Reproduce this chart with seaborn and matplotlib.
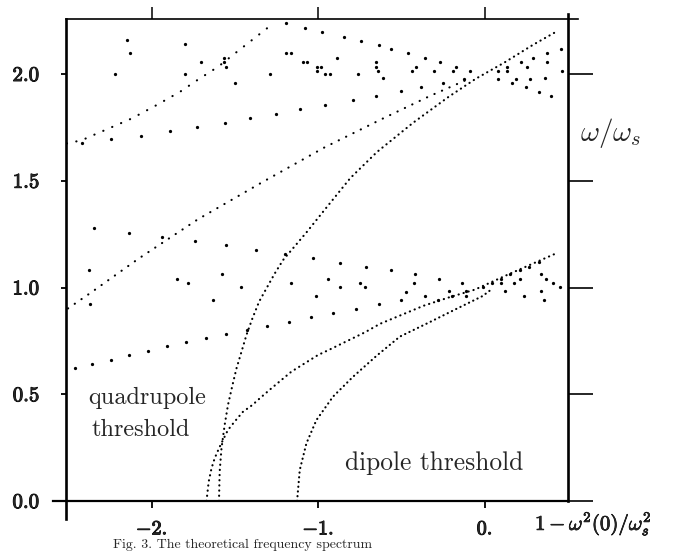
import matplotlib
matplotlib.use("Agg")
import matplotlib.pyplot as plt
import matplotlib.patheffects as pe
import seaborn as sns

# ---------------- data ----------------
# continuous dotted curves
curve_a_x = [-2.51, -2.42, -2.36, -2.30, -2.12, -1.97, -1.83, -1.72, -1.60, -1.50, -1.40, -1.30, -1.27]
curve_a_y = [1.675, 1.69, 1.711, 1.731, 1.792, 1.855, 1.917, 1.975, 2.035, 2.097, 2.158, 2.219, 2.239]

curve_b_x = [-2.503, -2.358, -2.292, -2.076, -1.724, -1.337, -0.961, -0.611, -0.33, -0.094]
curve_b_y = [0.902, 0.98, 1.017, 1.137, 1.319, 1.493, 1.657, 1.792, 1.897, 1.978]

curve_c_x = [-1.596, -1.592, -1.581, -1.562, -1.542, -1.515, -1.491, -1.461, -1.431, -1.395,
             -1.355, -1.311, -1.261, -1.211, -1.071, -0.94, -0.807, -0.647, -0.43, -0.214,
             -0.054, 0.116, 0.29, 0.426]
curve_c_y = [0.0, 0.137, 0.247, 0.356, 0.45, 0.543, 0.621, 0.699, 0.778, 0.856,
             0.934, 0.996, 1.066, 1.129, 1.258, 1.385, 1.513, 1.635, 1.772, 1.895,
             1.978, 2.053, 2.137, 2.197]

curve_d_x = [-1.671, -1.658, -1.641, -1.622, -1.596, -1.572, -1.542, -1.502, -1.452, -1.395,
             -1.351, -1.281, -1.221, -1.161, -1.081, -1.001, -0.93, -0.72, -0.629, -0.366,
             -0.21, -0.06, 0.146, 0.42]
curve_d_y = [0.0, 0.09, 0.153, 0.2, 0.247, 0.286, 0.333, 0.372, 0.418, 0.45,
             0.481, 0.528, 0.567, 0.606, 0.645, 0.684, 0.71, 0.79, 0.83, 0.915,
             0.955, 0.99, 1.063, 1.157]

curve_e_x = [-1.127, -1.111, -1.071, -1.011, -0.911, -0.791, -0.65, -0.51, -0.325, -0.17, -0.013, 0.038]
curve_e_y = [0.0, 0.145, 0.27, 0.379, 0.489, 0.582, 0.68, 0.77, 0.84, 0.90, 0.96, 0.99]

# sparse dotted rows
row_f_x = [-2.462, -2.356, -2.246, -2.136, -2.022, -1.908, -1.792, -1.676, -1.552, -1.425,
           -1.305, -1.177, -1.045, -0.911, -0.775, -0.635, -0.5, -0.356, -0.214]
row_f_y = [0.621, 0.643, 0.660, 0.682, 0.701, 0.724, 0.743, 0.763, 0.782, 0.80,
           0.82, 0.84, 0.86, 0.882, 0.901, 0.921, 0.941, 0.962, 0.982]

row_g_x = [-2.42, -2.242, -2.066, -1.892, -1.728, -1.562, -1.407, -1.255, -1.107, -0.957,
           -0.794, -0.651, -0.5, -0.384, -0.252, -0.126]
row_g_y = [1.675, 1.694, 1.711, 1.732, 1.752, 1.772, 1.792, 1.813, 1.835, 1.855,
           1.88, 1.899, 1.92, 1.938, 1.959, 1.977]

row_h_x = [-1.191, -1.081, -0.975, -0.846, -0.742, -0.638, -0.561, -0.462, -0.361, -0.267, -0.174, -0.088]
row_h_y = [2.237, 2.217, 2.198, 2.175, 2.156, 2.137, 2.116, 2.097, 2.076, 2.056, 2.034, 2.014]

row_k_x = [-2.347, -2.138, -1.936, -1.742, -1.556, -1.371, -1.199, -1.031, -0.867, -0.713,
           -0.563, -0.417, -0.273, -0.139, -0.011]
row_k_y = [1.277, 1.257, 1.238, 1.218, 1.199, 1.176, 1.156, 1.137, 1.116, 1.097,
           1.082, 1.062, 1.041, 1.023, 1.002]

# isolated dots
dots_x = [-2.146, -2.132, -2.22, -1.80, -1.80, -1.706, -1.566, -1.566, -1.556, -1.502,
          -1.291, -1.191, -1.164, -1.091, -1.068, -1.009, -1.009, -0.982, -0.957, -0.93,
          -0.885, -0.763, -0.651, -0.651, -0.643, -0.612, -0.412, -0.438, -0.306, -0.192,
          0.079, 0.165, 0.245, 0.323, 0.40, 0.186, 0.27, 0.36, 0.079, 0.135,
          0.215, 0.29, 0.374, 0.456, 0.135, 0.255, 0.375, 0.465,
          -2.376, -2.369, -1.848, -1.782, -1.576, -1.462, -1.632, -1.161, -1.011, -0.941,
          -0.867, -0.751, -0.721, -0.475, -0.427, -0.28, -0.199, -0.11, -0.11,
          0.045, 0.1, 0.1, 0.154, 0.21, 0.21, 0.268, 0.324, 0.34, 0.37,
          0.408, 0.45, 0.12, 0.234, 0.34, 0.358, 0.177]
dots_y = [2.158, 2.097, 1.998, 2.139, 1.998, 2.055, 2.076, 2.058, 2.034, 1.956,
          1.998, 2.097, 2.098, 2.058, 2.057, 2.034, 2.015, 2.034, 1.998, 2.0,
          2.077, 2.0, 2.057, 2.034, 2.014, 1.98, 2.034, 2.014, 2.014, 2.015,
          1.977, 1.959, 1.938, 1.917, 1.897, 1.977, 1.977, 1.98, 2.015, 2.034,
          2.056, 2.076, 2.097, 2.116, 2.015, 2.034, 2.056, 2.014,
          1.082, 0.921, 1.04, 1.023, 1.062, 1.001, 0.941, 1.023, 0.96, 1.04,
          1.002, 1.023, 1.002, 0.98, 1.023, 0.941, 0.962, 0.982, 0.962,
          1.023, 1.041, 1.023, 1.062, 1.082, 1.041, 1.097, 1.118, 1.062, 1.041,
          1.023, 1.002, 0.982, 0.962, 0.982, 0.941, 1.023]

x_ticks = [-2, -1, 0]
x_tick_labels = [r"$\mathbf{-2.}$", r"$\mathbf{-1.}$", r"$\mathbf{0.}$"]
y_ticks = [0.0, 0.5, 1.0, 1.5, 2.0]
y_tick_labels = [r"$\mathbf{0.0}$", r"$\mathbf{0.5}$", r"$\mathbf{1.0}$", r"$\mathbf{1.5}$", r"$\mathbf{2.0}$"]

# ---------------- style ----------------
sns.set_style("ticks")
plt.rcParams["mathtext.fontset"] = "cm"
plt.rcParams["font.family"] = ["cmr10", "DejaVu Serif"]
plt.rcParams["axes.unicode_minus"] = False
plt.rcParams["axes.formatter.use_mathtext"] = True

fig = plt.figure(figsize=(6.83, 5.52), dpi=100)
ax = fig.add_axes([0.0966, 0.0924, 0.735, 0.8732])

curves = [
    (curve_a_x, curve_a_y, 4.4),
    (curve_b_x, curve_b_y, 3.7),
    (curve_c_x, curve_c_y, 2.3),
    (curve_d_x, curve_d_y, 2.3),
    (curve_e_x, curve_e_y, 2.1),
]
for cx, cy, gap in curves:
    sns.lineplot(x=cx, y=cy, ax=ax, sort=False, estimator=None, color="black",
                 linewidth=1.55, linestyle=(0, (0.1, gap)), dash_capstyle="round")

for sx, sy in [(row_f_x, row_f_y), (row_g_x, row_g_y), (row_h_x, row_h_y),
               (row_k_x, row_k_y), (dots_x, dots_y)]:
    sns.scatterplot(x=sx, y=sy, ax=ax, s=5.5, color="black", linewidth=0, legend=False)

ax.set_xlim(-2.515, 0.5)
ax.set_ylim(0, 2.258)

bold = [pe.withStroke(linewidth=0.7, foreground="black")]

ax.set_xticks(x_ticks)
ax.set_xticklabels(x_tick_labels, fontsize=14.5)
ax.set_yticks(y_ticks)
ax.set_yticklabels(y_tick_labels, fontsize=15)
for lab in ax.get_xticklabels() + ax.get_yticklabels():
    lab.set_path_effects(bold)
ax.tick_params(axis="x", direction="out", length=5, width=1.3, pad=9, color="black")
ax.tick_params(axis="y", direction="out", length=3.5, width=1.3, pad=15, color="black")
ax.set_xlabel("")
ax.set_ylabel("")

for side, lw in [("left", 1.9), ("bottom", 1.6), ("right", 1.9), ("top", 1.2)]:
    ax.spines[side].set_linewidth(lw)
    ax.spines[side].set_color("black")
ax.spines["left"].set_bounds(-0.085, 2.258)
ax.spines["bottom"].set_bounds(-2.595, 0.5)
ax.spines["top"].set_bounds(-2.515, 0.56)
ax.spines["right"].set_bounds(0, 2.28)

top = ax.secondary_xaxis("top")
top.set_xticks(x_ticks)
top.set_xticklabels([])
top.tick_params(direction="out", length=9, width=1.3)
for sp in top.spines.values():
    sp.set_visible(False)

right = ax.secondary_yaxis("right")
right.set_yticks(y_ticks)
right.set_yticklabels([])
right.tick_params(direction="out", length=18, width=1.4)
for sp in right.spines.values():
    sp.set_visible(False)

ax.text(-2.384, 0.482, "quadrupole", fontsize=17.5, ha="left", va="center")
ax.text(-2.36, 0.333, "threshold", fontsize=17.5, ha="left", va="center")
ax.text(-0.841, 0.178, "dipole threshold", fontsize=18.3, ha="left", va="center")

fig.text(580 / 683, 1 - 133 / 552, r"$\omega/\omega_s$", fontsize=21, ha="left", va="center")
xl = fig.text(535 / 683, 1 - 524 / 552,
              r"$\mathbf{1}-\omega^\mathbf{2}(\mathbf{0})/\omega_s^\mathbf{2}$",
              fontsize=15, ha="left", va="center")
xl.set_path_effects([pe.withStroke(linewidth=0.5, foreground="black")])
fig.text(113 / 683, 1 - 551 / 552, "Fig. 3. The theoretical frequency spectrum",
         fontsize=10, ha="left", va="bottom")

fig.savefig("out.png", dpi=100, facecolor="white")
